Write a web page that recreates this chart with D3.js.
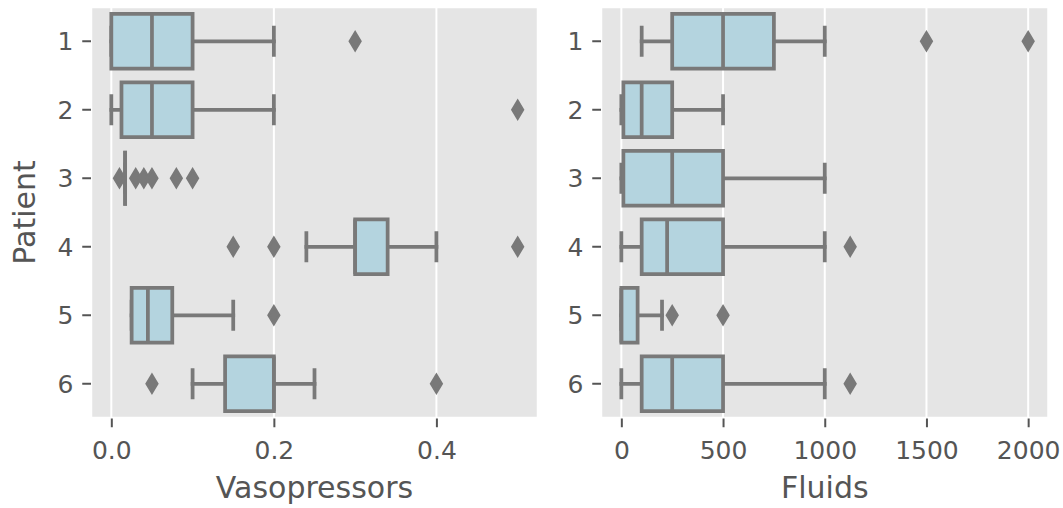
<!DOCTYPE html>
<html>
<head>
<meta charset="utf-8">
<script src="https://cdn.jsdelivr.net/npm/d3@7"></script>
<style>
  body { margin: 0; background: #fff; }
  text { font-family: "DejaVu Sans", sans-serif; }
</style>
</head>
<body>
<div id="chart"></div>
<script>
const width = 1063, height = 508;

const patients = ["1", "2", "3", "4", "5", "6"];

// Vasopressors box stats per patient
const vasoLow  = [0,    0,      0.017, 0.24, 0.025, 0.1];
const vasoQ1   = [0,    0.0125, 0.017, 0.3,  0.025, 0.14];
const vasoMed  = [0.05, 0.05,   0.017, 0.3,  0.045, 0.2];
const vasoQ3   = [0.1,  0.1,    0.017, 0.34, 0.075, 0.2];
const vasoHigh = [0.2,  0.2,    0.017, 0.4,  0.15,  0.25];
const vasoFliers = [[0.3], [0.5], [0.01, 0.03, 0.04, 0.05, 0.08, 0.1], [0.15, 0.2, 0.5], [0.2], [0.05, 0.4]];
const vasoTicks = [0, 0.2, 0.4];

// Fluids box stats per patient
const fluidLow  = [100,  0,   0,    0,    0,   0];
const fluidQ1   = [250,  10,  10,   100,  0,   100];
const fluidMed  = [500,  100, 250,  225,  0,   250];
const fluidQ3   = [750,  250, 500,  500,  80,  500];
const fluidHigh = [1000, 500, 1000, 1000, 200, 1000];
const fluidFliers = [[1500, 2000], [], [], [1125], [250, 500], [1125]];
const fluidTicks = [0, 500, 1000, 1500, 2000];

const fillColor = "#b4d4df";
const lineColor = "#797979";
const textColor = "#555555";
const plotTop = 7, plotBottom = 418;

const panels = [
    {label: "Vasopressors", left: 91, right: 538, domain: [-0.025, 0.525], ticks: vasoTicks, fmt: d3.format(".1f"),
     lo: vasoLow, q1: vasoQ1, med: vasoMed, q3: vasoQ3, hi: vasoHigh, fliers: vasoFliers},
    {label: "Fluids", left: 601, right: 1048.5, domain: [-100, 2100], ticks: fluidTicks, fmt: d3.format("d"),
     lo: fluidLow, q1: fluidQ1, med: fluidMed, q3: fluidQ3, hi: fluidHigh, fliers: fluidFliers}
];

let svg = d3.select("#chart").append("svg")
    .attr("width", width)
    .attr("height", height);

let y = d3.scaleBand()
    .domain(patients)
    .range([plotTop, plotBottom]);

const band = y.bandwidth();
const boxHalf = band * 0.4, capHalf = band * 0.2;
const dH = 17.7, dW = 10.6;
const diamond = `M0,${-dH / 2}L${dW / 2},0L0,${dH / 2}L${-dW / 2},0Z`;

function drawPanel(p) {
    let x = d3.scaleLinear().domain(p.domain).range([p.left, p.right]);
    let g = svg.append("g");

    g.append("rect")
        .attr("x", p.left).attr("y", plotTop)
        .attr("width", p.right - p.left).attr("height", plotBottom - plotTop)
        .attr("fill", "#e5e5e5");

    g.append("g").selectAll("line")
        .data(p.ticks)
        .join("line")
            .attr("x1", d => x(d)).attr("x2", d => x(d))
            .attr("y1", plotTop).attr("y2", plotBottom)
            .attr("stroke", "white")
            .attr("stroke-width", 2);

    let rows = patients.map((name, i) => ({
        name: name, lo: p.lo[i], q1: p.q1[i], med: p.med[i], q3: p.q3[i], hi: p.hi[i], fliers: p.fliers[i]
    }));

    let boxes = g.append("g")
        .attr("stroke", lineColor)
        .attr("stroke-width", 3.75)
        .selectAll("g")
        .data(rows)
        .join("g")
            .attr("transform", d => `translate(0,${y(d.name) + band / 2})`);

    // whiskers
    boxes.append("path")
        .attr("fill", "none")
        .attr("stroke-linecap", "square")
        .attr("d", d => `M${x(d.q1)},0H${x(d.lo)}M${x(d.q3)},0H${x(d.hi)}`);
    // caps
    boxes.append("path")
        .attr("fill", "none")
        .attr("stroke-linecap", "square")
        .attr("d", d => `M${x(d.lo)},${-capHalf}V${capHalf}M${x(d.hi)},${-capHalf}V${capHalf}`);
    // box
    boxes.append("path")
        .attr("fill", fillColor)
        .attr("d", d => `M${x(d.q1)},${-boxHalf}H${x(d.q3)}V${boxHalf}H${x(d.q1)}Z`);
    // median
    boxes.append("path")
        .attr("fill", "none")
        .attr("d", d => `M${x(d.med)},${-boxHalf}V${boxHalf}`);
    // fliers
    boxes.selectAll(".flier")
        .data(d => d.fliers)
        .join("path")
            .attr("class", "flier")
            .attr("d", diamond)
            .attr("transform", d => `translate(${x(d)},0)`)
            .attr("fill", lineColor)
            .attr("stroke-width", 2.5);

    // white spines
    g.append("rect")
        .attr("x", p.left).attr("y", plotTop)
        .attr("width", p.right - p.left).attr("height", plotBottom - plotTop)
        .attr("fill", "none")
        .attr("stroke", "white")
        .attr("stroke-width", 2.5);

    let xAxis = g.append("g")
        .attr("transform", `translate(0,${plotBottom + 0.5})`)
        .call(d3.axisBottom(x).tickValues(p.ticks).tickFormat(p.fmt).tickSize(8.75).tickPadding(8.75))
        .call(g => g.select(".domain").remove());
    xAxis.selectAll("line").attr("stroke", textColor).attr("stroke-width", 2);
    xAxis.selectAll("text")
        .attr("fill", textColor)
        .attr("font-size", 25)
        .attr("dy", "0.92em");

    let yAxis = g.append("g")
        .attr("transform", `translate(${p.left},0)`)
        .call(d3.axisLeft(y).tickSize(8.75).tickPadding(8.75))
        .call(g => g.select(".domain").remove());
    yAxis.selectAll("line").attr("stroke", textColor).attr("stroke-width", 2);
    yAxis.selectAll("text")
        .attr("fill", textColor)
        .attr("font-size", 25)
        .attr("dy", "0.36em");

    g.append("text")
        .attr("x", (p.left + p.right) / 2)
        .attr("y", 498)
        .attr("text-anchor", "middle")
        .attr("font-size", 30)
        .attr("fill", textColor)
        .text(p.label);
}

panels.forEach(drawPanel);

svg.append("text")
    .attr("transform", `translate(35,${(plotTop + plotBottom) / 2}) rotate(-90)`)
    .attr("text-anchor", "middle")
    .attr("font-size", 30)
    .attr("fill", textColor)
    .text("Patient");
</script>
</body>
</html>
